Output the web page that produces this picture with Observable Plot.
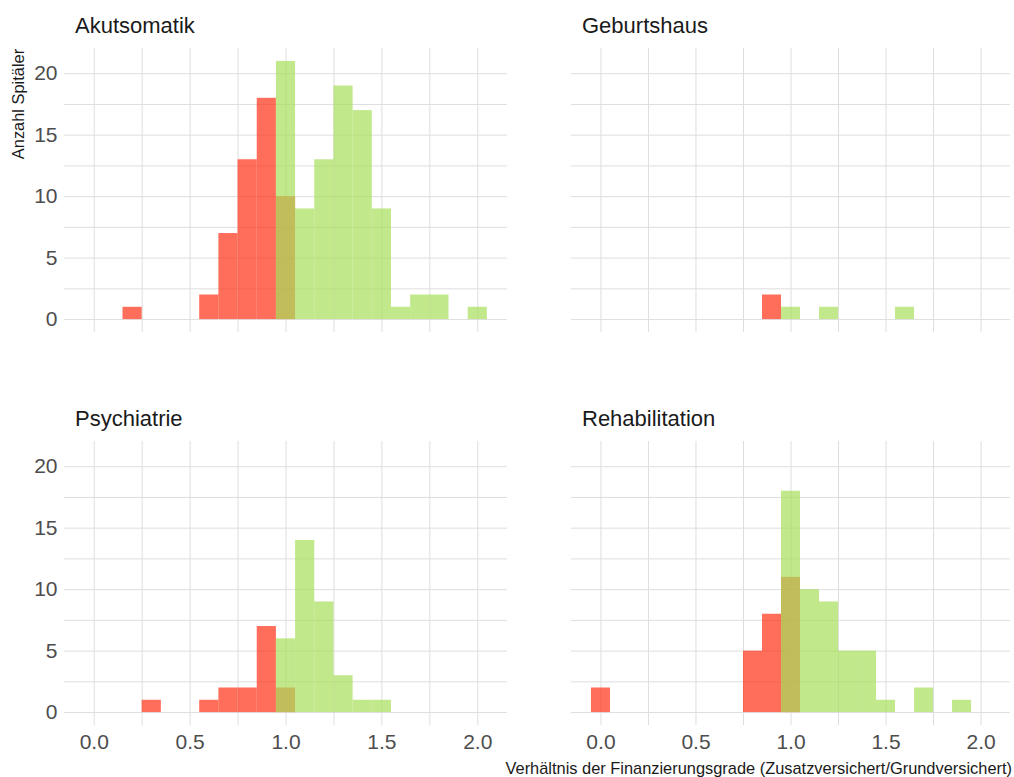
<!DOCTYPE html>
<html><head><meta charset="utf-8">
<script src="https://cdn.jsdelivr.net/npm/d3@7"></script>
<script src="https://cdn.jsdelivr.net/npm/@observablehq/plot@0.6"></script>
<style>
body{margin:0;background:#fff;}
#chart{position:relative;width:1014px;height:777px;font-family:"Liberation Sans",Arial,sans-serif;background:#fff;}
.p{position:absolute;}
.t{position:absolute;font-size:22px;line-height:1;color:#1a1a1a;white-space:nowrap;}
.ax{position:absolute;font-size:16.4px;line-height:1;color:#1a1a1a;white-space:nowrap;}
</style></head><body><div id="chart"></div><script>
// Panel names
const panelNames = ["Akutsomatik", "Geburtshaus", "Psychiatrie", "Rehabilitation"];

// Bin centers (width 0.1) and counts: red = ratio < 1, green = ratio >= 1
const akutRedX   = [0.2, 0.6, 0.7, 0.8, 0.9, 1.0];
const akutRedN   = [1, 2, 7, 13, 18, 10];
const akutGreenX = [1.0, 1.1, 1.2, 1.3, 1.4, 1.5, 1.6, 1.7, 1.8, 2.0];
const akutGreenN = [21, 9, 13, 19, 17, 9, 1, 2, 2, 1];

const geburtRedX   = [0.9];
const geburtRedN   = [2];
const geburtGreenX = [1.0, 1.2, 1.6];
const geburtGreenN = [1, 1, 1];

const psychRedX   = [0.3, 0.6, 0.7, 0.8, 0.9, 1.0];
const psychRedN   = [1, 1, 2, 2, 7, 2];
const psychGreenX = [1.0, 1.1, 1.2, 1.3, 1.4, 1.5];
const psychGreenN = [6, 14, 9, 3, 1, 1];

const rehaRedX   = [0.0, 0.8, 0.9, 1.0];
const rehaRedN   = [2, 5, 8, 11];
const rehaGreenX = [1.0, 1.1, 1.2, 1.3, 1.4, 1.5, 1.7, 1.9];
const rehaGreenN = [18, 10, 9, 5, 5, 1, 2, 1];

// Axis ticks
const xTicks = [0, 0.5, 1, 1.5, 2];
const xMinor = [0.25, 0.75, 1.25, 1.75];
const yTicks = [0, 5, 10, 15, 20];
const yMinor = [2.5, 7.5, 12.5, 17.5];
const binWidth = 0.1;

const xTitle = "Verhältnis der Finanzierungsgrade (Zusatzversichert/Grundversichert)";
const yTitle = "Anzahl Spitäler";

function rows(xs, ns) {
  return xs.map((x, i) => ({x1: x - binWidth / 2, x2: x + binWidth / 2, n: ns[i]}));
}

const chart = document.getElementById("chart");

function panel(o) {
  const marks = [
    Plot.ruleX(xMinor.concat(xTicks), {stroke: "#dedede", strokeWidth: 1}),
    Plot.ruleY(yMinor.concat(yTicks), {stroke: "#dedede", strokeWidth: 1}),
    Plot.rectY(o.red, {x1: "x1", x2: "x2", y: "n", fill: "#FF3116", fillOpacity: 0.7}),
    Plot.rectY(o.green, {x1: "x1", x2: "x2", y: "n", fill: "#A8DE5B", fillOpacity: 0.7})
  ];
  if (o.xAxis) marks.push(Plot.axisX(xTicks, {tickSize: 0, tickPadding: 9, tickFormat: d3.format(".1f"), fill: "#4d4d4d", fontSize: 21, label: null}));
  if (o.yAxis) marks.push(Plot.axisY(yTicks, {tickSize: 0, tickPadding: 7, fill: "#4d4d4d", fontSize: 21, label: null}));
  const svg = Plot.plot({
    width: o.width, height: o.height,
    marginLeft: o.mL, marginRight: o.mR, marginTop: o.mT, marginBottom: o.mB,
    x: {domain: [-0.155, 2.155], axis: o.xAxis ? undefined : null, label: null},
    y: {domain: [-1.05, 22.05], axis: o.yAxis ? undefined : null, label: null},
    style: {fontFamily: "Liberation Sans, Arial, sans-serif", fontSize: "21px", color: "#4d4d4d", background: "transparent"},
    marks
  });
  svg.classList.add("p");
  svg.style.left = o.left + "px";
  svg.style.top = o.top + "px";
  chart.appendChild(svg);
  const t = document.createElement("div");
  t.className = "t";
  t.textContent = o.title;
  t.style.left = o.titleX + "px";
  t.style.top = o.titleY + "px";
  chart.appendChild(t);
}

panel({title: panelNames[0], red: rows(akutRedX, akutRedN), green: rows(akutGreenX, akutGreenN),
  left: 0, top: 40, width: 514, height: 300, mL: 64, mR: 7, mT: 8, mB: 8, yAxis: true, xAxis: false, titleX: 75, titleY: 15});
panel({title: panelNames[1], red: rows(geburtRedX, geburtRedN), green: rows(geburtGreenX, geburtGreenN),
  left: 514, top: 40, width: 500, height: 300, mL: 57, mR: 4, mT: 8, mB: 8, yAxis: false, xAxis: false, titleX: 582, titleY: 15});
panel({title: panelNames[2], red: rows(psychRedX, psychRedN), green: rows(psychGreenX, psychGreenN),
  left: 0, top: 433, width: 514, height: 330, mL: 64, mR: 7, mT: 8, mB: 38, yAxis: true, xAxis: true, titleX: 75, titleY: 408});
panel({title: panelNames[3], red: rows(rehaRedX, rehaRedN), green: rows(rehaGreenX, rehaGreenN),
  left: 514, top: 433, width: 500, height: 330, mL: 57, mR: 4, mT: 8, mB: 38, yAxis: false, xAxis: true, titleX: 582, titleY: 408});

const xt = document.createElement("div");
xt.className = "ax";
xt.textContent = xTitle;
xt.style.right = "2px";
xt.style.top = "760px";
chart.appendChild(xt);

const yt = document.createElement("div");
yt.className = "ax";
yt.textContent = yTitle;
yt.style.left = "18px";
yt.style.top = "104px";
yt.style.transform = "translate(-50%,-50%) rotate(-90deg)";
chart.appendChild(yt);
</script></body></html>
